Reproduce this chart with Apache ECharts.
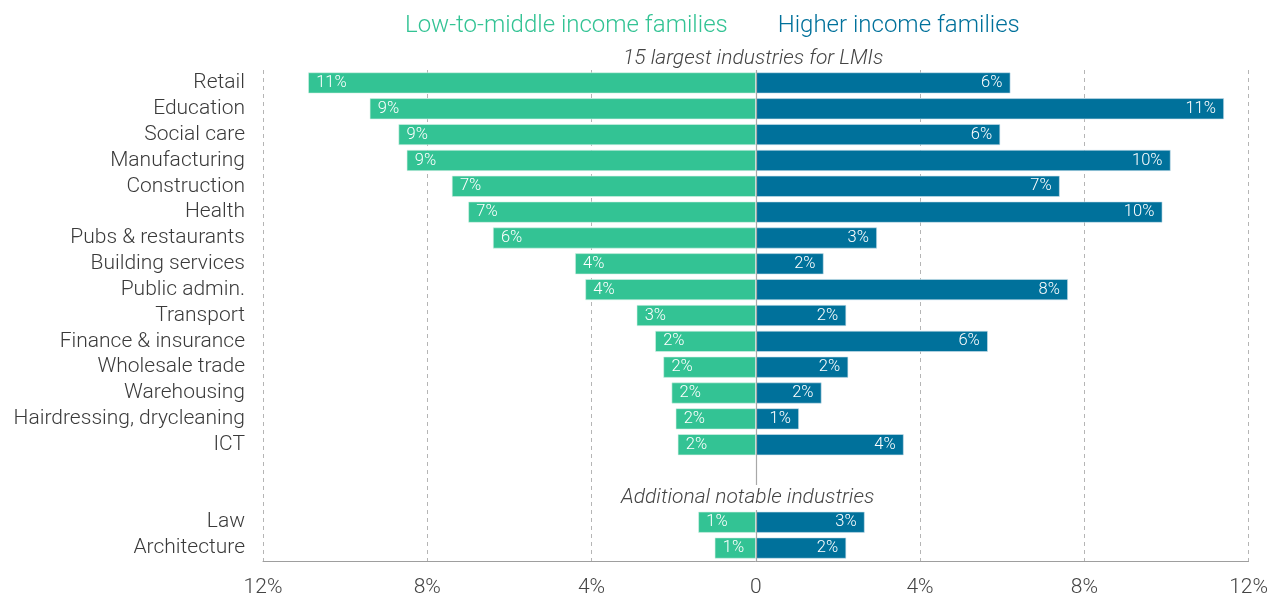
<!DOCTYPE html>
<html><head><meta charset="utf-8">
<script src="https://cdn.jsdelivr.net/npm/echarts@6/dist/echarts.min.js"></script>
<style>html,body{margin:0;padding:0;background:#fff}#c{width:1271px;height:598px}</style>
</head><body><div id="c"></div>
<script>
const categories = ['Retail','Education','Social care','Manufacturing','Construction','Health','Pubs & restaurants','Building services','Public admin.','Transport','Finance & insurance','Wholesale trade','Warehousing','Hairdressing, drycleaning','ICT','',' ','Law','Architecture'];
const lmiValues = [10.9,9.4,8.7,8.5,7.4,7.0,6.4,4.4,4.15,2.9,2.45,2.25,2.05,1.95,1.9,null,null,1.4,1.0];
const higherValues = [6.2,11.4,5.95,10.1,7.4,9.9,2.95,1.65,7.6,2.2,5.65,2.25,1.6,1.05,3.6,null,null,2.65,2.2];
const xTicks = {min:-12, max:12, interval:4};
const seriesNames = ['Low-to-middle income families','Higher income families'];
const sectionTitles = ['15 largest industries for LMIs','Additional notable industries'];

const GREEN = '#33c394', BLUE = '#00719b';
const FONT = 'Roboto';
const chart = echarts.init(document.getElementById('c'));
const fmt = p => p.value == null ? '' : Math.round(Math.abs(p.value)) + '%';
chart.setOption({
  animation:false,
  textStyle:{fontFamily:FONT},
  legend:{
    top:9, left:394, itemWidth:0, itemHeight:0, itemGap:44, icon:'rect', selectedMode:false,
    textStyle:{fontSize:24, fontWeight:300, fontFamily:FONT, padding:0},
    data:[{name:seriesNames[0], textStyle:{color:GREEN}},{name:seriesNames[1], textStyle:{color:BLUE}}]
  },
  grid:{left:263, right:21, top:70, bottom:37, containLabel:false},
  xAxis:{
    type:'value', min:xTicks.min, max:xTicks.max, interval:xTicks.interval,
    axisLine:{show:true, lineStyle:{color:'#9e9e9e', width:1}},
    axisTick:{show:false},
    axisLabel:{fontSize:21, color:'#444', margin:16, fontWeight:300, fontFamily:FONT,
      formatter:v => v === 0 ? '0' : Math.abs(v) + '%'},
    splitLine:{show:true, lineStyle:{color:'#b5b5b5', type:[4,4], width:1}}
  },
  yAxis:{
    type:'category', data:categories, inverse:true,
    axisLine:{show:false}, axisTick:{show:false},
    axisLabel:{interval:0, fontSize:21, color:'#3a3a3a', margin:18, fontWeight:300, fontFamily:FONT}
  },
  series:[
    {name:seriesNames[0], type:'bar', data:lmiValues.map(v => v == null ? null : -v), barWidth:21, barGap:'-100%',
      itemStyle:{color:GREEN, borderColor:'#d8f2e8', borderWidth:0.6},
      label:{show:true, position:'insideLeft', color:'#fff', fontSize:16.5, fontWeight:300, fontFamily:FONT, distance:8, formatter:fmt},
      markLine:{silent:true, symbol:'none', label:{show:false}, lineStyle:{color:'#a8a8a8', type:'solid', width:1.2},
        data:[{xAxis:0}]}
    },
    {name:seriesNames[1], type:'bar', data:higherValues, barWidth:21,
      itemStyle:{color:BLUE, borderColor:'#cfe3ec', borderWidth:0.6},
      label:{show:true, position:'insideRight', color:'#fff', fontSize:16.5, fontWeight:300, fontFamily:FONT, distance:8, formatter:fmt}
    }
  ],
  graphic:[
    {type:'text', z:100, left:623, top:48, style:{text:sectionTitles[0], fontSize:21, fontStyle:'italic', fontWeight:300, fill:'#444', fontFamily:FONT}},
    {type:'text', z:100, left:619, top:485, style:{text:sectionTitles[1], fontSize:21, fontStyle:'italic', fontWeight:300, fill:'#444', fontFamily:FONT, backgroundColor:'#fff', padding:[2,2]}}
  ]
});
</script></body></html>
